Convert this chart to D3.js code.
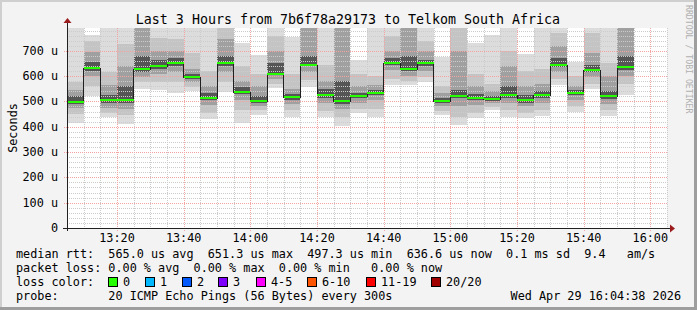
<!DOCTYPE html>
<html>
<head>
<meta charset="utf-8">
<script src="https://cdn.jsdelivr.net/npm/d3@7/dist/d3.min.js"></script>
<style>
  body { margin: 0; background: #f3f3f3; }
  text { font-family: "DejaVu Sans Mono", monospace; white-space: pre; }
</style>
</head>
<body>
<svg id="chart" width="697" height="310"></svg>
<script>
// one step every 300s, 13:05 .. 15:55 (UTC used as wall clock)
var stepMinutes = 5;
var startTime = Date.UTC(2026, 3, 29, 13, 5);
var endTime = Date.UTC(2026, 3, 29, 16, 5);

// median rtt per step, microseconds
var medianRtt = [498, 632, 505, 505, 630, 638, 651, 598, 515, 650, 538, 500, 610, 516, 645, 527, 500,
  520, 532, 651.3, 627, 651, 502, 522, 513, 508, 527, 505, 526, 645, 532, 625, 520, 636.6];

// smoke: spread of the 20 pings per step (sorted ping percentiles)
var pingMin = [415, 522, 437, 411, 550, 545, 533, 540, 430, 538, 416, 445, 553, 440, 558, 437, 403,
  454, 440, 565, 565, 578, 446, 407, 434, 466, 440, 434, 444, 565, 459, 551, 444, 525];
var ping10 = [450, 560, 455, 445, 575, 575, 575, 555, 455, 575, 465, 465, 570, 465, 585, 462, 440,
  470, 470, 590, 580, 595, 462, 440, 455, 478, 465, 455, 465, 590, 480, 570, 465, 570];
var ping25 = [475, 600, 475, 470, 598, 610, 615, 575, 485, 615, 505, 482, 590, 490, 615, 492, 470,
  495, 505, 625, 600, 620, 480, 480, 485, 492, 495, 480, 495, 615, 505, 595, 490, 600];
var ping40 = [490, 622, 492, 495, 618, 628, 640, 590, 505, 640, 530, 495, 605, 505, 638, 515, 490,
  512, 525, 645, 620, 640, 495, 512, 505, 502, 515, 495, 515, 635, 525, 615, 510, 625];
var ping60 = [520, 655, 525, 560, 680, 665, 670, 610, 535, 680, 555, 520, 650, 530, 680, 550, 580,
  535, 545, 670, 680, 665, 515, 545, 530, 520, 560, 525, 540, 670, 545, 645, 540, 680];
var ping75 = [545, 695, 565, 640, 790, 700, 700, 630, 560, 745, 580, 560, 700, 550, 790, 580, 800,
  560, 565, 700, 800, 700, 535, 700, 560, 540, 640, 560, 570, 720, 560, 690, 600, 790];
var ping90 = [575, 740, 617, 725, 840, 750, 745, 690, 620, 810, 640, 610, 760, 610, 830, 644, 850,
  610, 600, 760, 830, 740, 560, 810, 610, 570, 700, 620, 630, 770, 600, 770, 650, 830];
var pingMax = [830, 764, 830, 800, 860, 810, 800, 795, 810, 840, 729, 683, 820, 755, 860, 820, 870,
  663, 820, 820, 860, 820, 675, 830, 730, 762, 820, 686, 820, 820, 657, 820, 820, 860];

var yTicks = [0, 100, 200, 300, 400, 500, 600, 700];
var yTickLabels = ["0", "100 u", "200 u", "300 u", "400 u", "500 u", "600 u", "700 u"];

var titleText = "Last 3 Hours from 7b6f78a29173 to Telkom South Africa";
var legendRows = [
  "median rtt:  565.0 us avg  651.3 us max  497.3 us min  636.6 us now  0.1 ms sd  9.4   am/s",
  "packet loss: 0.00 % avg  0.00 % max  0.00 % min   0.00 % now",
  "loss color:",
  "probe:       20 ICMP Echo Pings (56 Bytes) every 300s"
];
var lossLabels = ["0", "1", "2", "3", "4-5", "6-10", "11-19", "20/20"];
var lossColors = ["#26ff00", "#00b8ff", "#0059ff", "#7e00ff", "#ff00ff", "#ff5500", "#ff0000", "#a10000"];
var lossBoxX = [108, 145, 182, 218, 256, 307, 366, 431];
var stampText = "Wed Apr 29 16:04:38 2026";

var svg = d3.select("#chart");
var W = 697, H = 310;
var plot = {left: 67, right: 667, top: 28, bottom: 228};

// canvas + shaded frame
svg.append("rect").attr("width", W).attr("height", H).attr("fill", "#f3f3f3");
svg.append("rect").attr("x", 0).attr("y", 0).attr("width", W).attr("height", 2).attr("fill", "#cfcfcf");
svg.append("rect").attr("x", 0).attr("y", 0).attr("width", 2).attr("height", H).attr("fill", "#cfcfcf");
svg.append("rect").attr("x", 0).attr("y", H - 3).attr("width", W).attr("height", 3).attr("fill", "#9e9e9e");
svg.append("rect").attr("x", W - 3).attr("y", 0).attr("width", 3).attr("height", H).attr("fill", "#9e9e9e");

svg.append("rect")
  .attr("x", plot.left).attr("y", plot.top)
  .attr("width", plot.right - plot.left).attr("height", plot.bottom - plot.top)
  .attr("fill", "#ffffff");

var x = d3.scaleUtc().domain([startTime, endTime]).range([plot.left, plot.right]);
var y = d3.scaleLinear().domain([0, 790]).range([plot.bottom, plot.top]);

svg.append("clipPath").attr("id", "plotClip")
  .append("rect")
  .attr("x", plot.left).attr("y", plot.top)
  .attr("width", plot.right - plot.left).attr("height", plot.bottom - plot.top);

var steps = medianRtt.map(function(m, i){
  return {t: startTime + i * stepMinutes * 60000, median: m, i: i};
});
var stepMs = stepMinutes * 60000;

// smoke layers, outer (light) to inner (dark)
var bands = [
  {lo: pingMin, hi: pingMax, color: "#dcdcdc"},
  {lo: ping10, hi: ping90, color: "#c4c4c4"},
  {lo: ping25, hi: ping75, color: "#a0a0a0"},
  {lo: ping40, hi: ping60, color: "#555555"}
];

var smoke = svg.append("g").attr("clip-path", "url(#plotClip)").attr("shape-rendering", "crispEdges");
bands.forEach(function(band){
  smoke.append("g").selectAll("rect")
    .data(steps)
    .enter().append("rect")
    .attr("x", function(d){ return x(d.t); })
    .attr("width", function(d){ return x(d.t + stepMs) - x(d.t); })
    .attr("y", function(d){ return y(band.hi[d.i]); })
    .attr("height", function(d){ return y(band.lo[d.i]) - y(band.hi[d.i]); })
    .attr("fill", band.color);
});

// grid (drawn over the smoke, dotted)
var grid = svg.append("g").attr("shape-rendering", "crispEdges");
var minorTimes = d3.utcMinute.every(5).range(startTime + 1, endTime + 1);
grid.selectAll(".vminor")
  .data(minorTimes.filter(function(t){ return t.getUTCMinutes() % 20 !== 0; }))
  .enter().append("line")
  .attr("x1", function(d){ return Math.round(x(d)) + 0.5; })
  .attr("x2", function(d){ return Math.round(x(d)) + 0.5; })
  .attr("y1", plot.top).attr("y2", plot.bottom)
  .attr("stroke", "#cccccc").attr("stroke-dasharray", "1,1");
var yMinor = d3.range(20, 790, 20).filter(function(v){ return v % 100 !== 0; });
grid.selectAll(".hminor")
  .data(yMinor)
  .enter().append("line")
  .attr("x1", plot.left).attr("x2", plot.right)
  .attr("y1", function(d){ return Math.round(y(d)) + 0.5; })
  .attr("y2", function(d){ return Math.round(y(d)) + 0.5; })
  .attr("stroke", "#cccccc").attr("stroke-dasharray", "1,1");

var majorTimes = d3.utcMinute.every(20).range(startTime + 1, endTime + 1);
grid.selectAll(".vmajor")
  .data(majorTimes)
  .enter().append("line")
  .attr("x1", function(d){ return Math.round(x(d)) + 0.5; })
  .attr("x2", function(d){ return Math.round(x(d)) + 0.5; })
  .attr("y1", plot.top).attr("y2", plot.bottom + 3)
  .attr("stroke", "#f2a4a4").attr("stroke-dasharray", "1,1");
grid.selectAll(".hmajor")
  .data(yTicks.slice(1))
  .enter().append("line")
  .attr("x1", plot.left - 3).attr("x2", plot.right)
  .attr("y1", function(d){ return Math.round(y(d)) + 0.5; })
  .attr("y2", function(d){ return Math.round(y(d)) + 0.5; })
  .attr("stroke", "#f2a4a4").attr("stroke-dasharray", "1,1");

// median: dark step line, then loss-coloured segments
var step = d3.line()
  .x(function(d){ return x(d.t); })
  .y(function(d){ return Math.round(y(d.median)) + 0.5; })
  .curve(d3.curveStepAfter);
var lastStep = {t: steps[steps.length - 1].t + stepMs, median: steps[steps.length - 1].median};
svg.append("path")
  .datum(steps.concat([lastStep]))
  .attr("d", step)
  .attr("fill", "none")
  .attr("stroke", "#202020")
  .attr("stroke-width", 1)
  .attr("shape-rendering", "crispEdges");
svg.append("g").selectAll("line")
  .data(steps)
  .enter().append("line")
  .attr("x1", function(d){ return x(d.t); })
  .attr("x2", function(d){ return x(d.t + stepMs); })
  .attr("y1", function(d){ return Math.round(y(d.median)); })
  .attr("y2", function(d){ return Math.round(y(d.median)); })
  .attr("stroke", lossColors[0])
  .attr("stroke-width", 2)
  .attr("shape-rendering", "crispEdges");

// axes
var axisColor = "#202020";
svg.append("line")
  .attr("x1", plot.left - 4).attr("x2", plot.right + 3)
  .attr("y1", plot.bottom + 0.5).attr("y2", plot.bottom + 0.5)
  .attr("stroke", axisColor);
svg.append("line")
  .attr("x1", plot.left + 0.5).attr("x2", plot.left + 0.5)
  .attr("y1", plot.bottom + 3).attr("y2", plot.top - 5)
  .attr("stroke", axisColor);
svg.append("path")
  .attr("d", "M" + (plot.right + 3) + "," + (plot.bottom - 3.5) + "l5,4l-5,4z")
  .attr("fill", "#9b1c1c");
svg.append("path")
  .attr("d", "M" + (plot.left - 3.5) + "," + (plot.top - 5) + "l4,-5l4,5z")
  .attr("fill", "#9b1c1c");

var fmt = d3.utcFormat("%H:%M");
svg.append("g").selectAll("text")
  .data(majorTimes)
  .enter().append("text")
  .attr("x", function(d){ return x(d); })
  .attr("y", 242)
  .attr("text-anchor", "middle")
  .attr("font-size", "11.8px")
  .text(function(d){ return fmt(d); });

svg.append("g").selectAll("text")
  .data(yTicks)
  .enter().append("text")
  .attr("x", 58)
  .attr("y", function(d){ return y(d) + 4; })
  .attr("text-anchor", "end")
  .attr("font-size", "11.8px")
  .text(function(d, i){ return yTickLabels[i]; });

svg.append("text")
  .attr("transform", "translate(17,128) rotate(-90)")
  .attr("text-anchor", "middle")
  .attr("font-size", "11.8px")
  .text("Seconds");

svg.append("text")
  .attr("x", 348).attr("y", 23.5)
  .attr("text-anchor", "middle")
  .attr("font-size", "13.3px")
  .text(titleText);

svg.append("text")
  .attr("transform", "translate(686,5) rotate(90)")
  .attr("font-size", "8.2px")
  .attr("fill", "#b0b0b0")
  .text("RRDTOOL / TOBI OETIKER");

// legend
var rowY = [258, 272, 286, 300];
legendRows.forEach(function(row, i){
  svg.append("text")
    .attr("x", 16).attr("y", rowY[i])
    .attr("font-size", "11.8px")
    .text(row);
});
var swatches = svg.append("g").selectAll("g")
  .data(lossLabels)
  .enter().append("g");
swatches.append("rect")
  .attr("x", function(d, i){ return lossBoxX[i] + 0.5; })
  .attr("y", 277.5)
  .attr("width", 9).attr("height", 9)
  .attr("fill", function(d, i){ return lossColors[i]; })
  .attr("stroke", "#000");
swatches.append("text")
  .attr("x", function(d, i){ return lossBoxX[i] + 15; })
  .attr("y", 286)
  .attr("font-size", "11.8px")
  .text(function(d){ return d; });

svg.append("text")
  .attr("x", 681).attr("y", 300)
  .attr("text-anchor", "end")
  .attr("font-size", "11.8px")
  .text(stampText);
</script>
</body>
</html>
